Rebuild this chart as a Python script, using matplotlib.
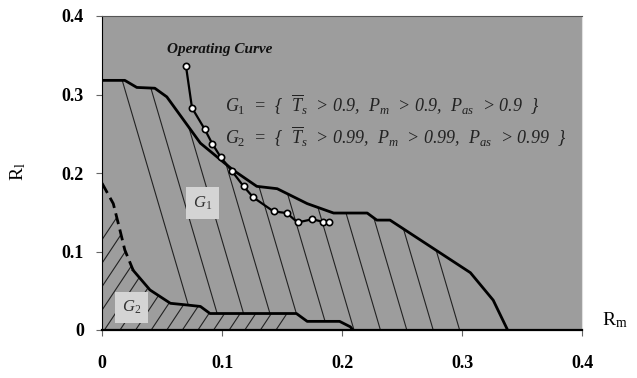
import numpy as np
import matplotlib
matplotlib.use("Agg")
import matplotlib.pyplot as plt
from matplotlib.patches import Polygon

plt.rcParams['mathtext.fontset'] = 'custom'
plt.rcParams['mathtext.it'] = 'Liberation Serif:italic'
plt.rcParams['mathtext.rm'] = 'Liberation Serif'
plt.rcParams['mathtext.default'] = 'it'
plt.rcParams['font.family'] = ['Liberation Serif', 'DejaVu Serif']

# G1 boundary (solid thick line)
g1_x = [0, 0.019, 0.029, 0.044, 0.054, 0.082, 0.109, 0.129, 0.146, 0.171, 0.193,
        0.221, 0.229, 0.240, 0.307, 0.326, 0.338]
g1_y = [0.318, 0.318, 0.309, 0.308, 0.297, 0.238, 0.204, 0.183, 0.180, 0.161, 0.149,
        0.149, 0.140, 0.140, 0.073, 0.038, 0.0]

# G2 boundary (dashed at first, then solid)
g2_x = [0, 0.0094, 0.015, 0.019, 0.026, 0.040, 0.057, 0.070, 0.082, 0.090, 0.137,
        0.162, 0.171, 0.198, 0.207, 0.209]
g2_y = [0.187, 0.161, 0.127, 0.102, 0.076, 0.051, 0.034, 0.032, 0.030, 0.021, 0.021,
        0.021, 0.011, 0.011, 0.004, 0.0]

# operating curve
op_x = [0.070, 0.075, 0.0855, 0.092, 0.099, 0.108, 0.118, 0.126, 0.143, 0.154,
        0.163, 0.175, 0.184, 0.189]
op_y = [0.336, 0.283, 0.256, 0.237, 0.220, 0.203, 0.183, 0.169, 0.151, 0.149,
        0.137, 0.141, 0.138, 0.138]

ticks = [0, 0.1, 0.2, 0.3, 0.4]
tick_labels = ["0", "0.1", "0.2", "0.3", "0.4"]

fig = plt.figure(figsize=(6.37, 3.78), dpi=100)
ax = fig.add_axes([102 / 637, 48 / 378, 480 / 637, 314 / 378])
ax.set_facecolor('#9d9d9d')
ax.set_xlim(0, 0.4)
ax.set_ylim(0, 0.4)

# hatching of G1 region (steep "\" lines)
clip1 = Polygon(list(zip(g1_x, g1_y)) + list(zip(g2_x[::-1], g2_y[::-1])),
                closed=True, transform=ax.transData)
for xc in np.arange(0.078, 0.30, 0.022):
    ln, = ax.plot([xc, xc - 0.4 / 5.2], [0, 0.4], color='#222222', lw=0.8)
    ln.set_clip_path(clip1)

# hatching of G2 region ("/" lines)
clip2 = Polygon(list(zip(g2_x, g2_y)) + [(0, 0)], closed=True, transform=ax.transData)
for xc in np.arange(-0.05, 0.15, 0.013):
    ln, = ax.plot([xc, xc + 0.4 / 2.3], [0, 0.4], color='#222222', lw=0.8)
    ln.set_clip_path(clip2)

# boundaries
ax.plot(g1_x, g1_y, color='black', lw=2)
ax.plot(g2_x[:5], g2_y[:5], color='black', lw=2, linestyle=(0, (4, 2)))
ax.plot(g2_x[4:], g2_y[4:], color='black', lw=2)

# operating curve
ax.plot(op_x, op_y, color='black', lw=1.6, marker='o', markersize=4.5,
        markerfacecolor='white', markeredgecolor='black', markeredgewidth=1.2)

ax.text(0.098, 0.357, "Operating Curve", fontsize=11, fontweight='bold',
        fontstyle='italic', ha='center', va='center', color='#111111')
ax.text(0.1025, 0.287,
        r"$G_1$  =  {  $\overline{T}_s$  > 0.9,  $P_m$  > 0.9,  $P_{as}$  > 0.9  }",
        fontsize=13, fontstyle='italic', ha='left', va='center', color='#222222')
ax.text(0.1025, 0.246,
        r"$G_2$  =  {  $\overline{T}_s$  > 0.99,  $P_m$  > 0.99,  $P_{as}$  > 0.99  }",
        fontsize=13, fontstyle='italic', ha='left', va='center', color='#222222')

box = dict(facecolor='#d4d4d4', edgecolor='none', pad=5)
ax.text(0.0838, 0.162, r"$G_1$", fontsize=12, ha='center', va='center',
        color='#333333', bbox=box)
ax.text(0.0244, 0.0287, r"$G_2$", fontsize=12, ha='center', va='center',
        color='#333333', bbox=box)

ax.set_xticks(ticks)
ax.set_xticklabels(tick_labels, fontsize=13, fontweight='bold')
ax.set_yticks(ticks)
ax.set_yticklabels(tick_labels, fontsize=13, fontweight='bold')
ax.tick_params(axis='x', direction='out', length=4, pad=14, color='#666666')
ax.tick_params(axis='y', direction='out', length=4, pad=9, color='#666666')

ax.spines['left'].set_color('black')
ax.spines['bottom'].set_color('black')
ax.spines['bottom'].set_linewidth(1.6)
ax.spines['top'].set_color('#555555')
ax.spines['right'].set_color('#e0e0e0')

fig.text(615 / 637, 1 - 320 / 378, r"R$_{\rm m}$", fontsize=14, ha='center', va='center')
fig.text(18 / 637, 1 - 172 / 378, r"R$_{\rm l}$", fontsize=14, ha='center', va='center',
         rotation=90)

fig.savefig("out.png", dpi=100)
